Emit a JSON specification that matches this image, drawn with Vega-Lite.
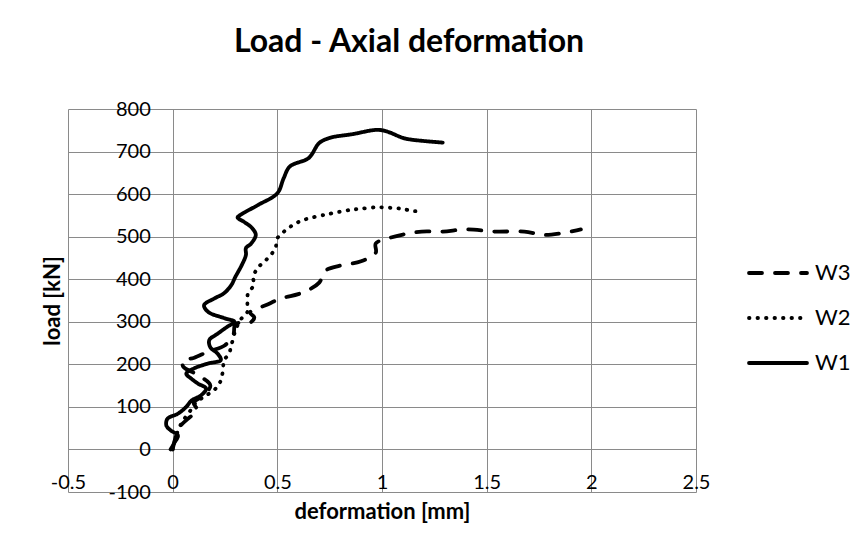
{
  "$schema": "https://vega.github.io/schema/vega-lite/v6.json",
  "autosize": {"type": "none"},
  "padding": {"left": 68, "top": 109, "right": 165, "bottom": 61},
  "width": 628,
  "height": 383,
  "background": "white",
  "title": {"text": "Load - Axial deformation", "font": "Lato", "fontSize": 32, "fontWeight": "bold", "color": "black", "anchor": "middle", "dx": 27, "offset": 40},
  "config": {"view": {"stroke": null}, "font": "Lato"},
  "datasets": {
    "curves": [
      {"s":"W3","o":0,"x":0,"y":0},{"s":"W3","o":1,"x":0.03,"y":50},{"s":"W3","o":2,"x":0.08,"y":75},{"s":"W3","o":3,"x":0.12,"y":90},{"s":"W3","o":4,"x":0.1,"y":110},{"s":"W3","o":5,"x":0.14,"y":125},{"s":"W3","o":6,"x":0.18,"y":150},{"s":"W3","o":7,"x":0.12,"y":175},{"s":"W3","o":8,"x":0.05,"y":195},{"s":"W3","o":9,"x":0.05,"y":210},{"s":"W3","o":10,"x":0.1,"y":215},{"s":"W3","o":11,"x":0.17,"y":230},{"s":"W3","o":12,"x":0.25,"y":245},{"s":"W3","o":13,"x":0.29,"y":270},{"s":"W3","o":14,"x":0.3,"y":295},{"s":"W3","o":15,"x":0.37,"y":298},{"s":"W3","o":16,"x":0.39,"y":310},{"s":"W3","o":17,"x":0.37,"y":322},{"s":"W3","o":18,"x":0.45,"y":340},{"s":"W3","o":19,"x":0.52,"y":355},{"s":"W3","o":20,"x":0.6,"y":365},{"s":"W3","o":21,"x":0.65,"y":375},{"s":"W3","o":22,"x":0.7,"y":392},{"s":"W3","o":23,"x":0.73,"y":420},{"s":"W3","o":24,"x":0.8,"y":432},{"s":"W3","o":25,"x":0.9,"y":442},{"s":"W3","o":26,"x":0.97,"y":462},{"s":"W3","o":27,"x":0.97,"y":484},{"s":"W3","o":28,"x":1.03,"y":496},{"s":"W3","o":29,"x":1.1,"y":505},{"s":"W3","o":30,"x":1.19,"y":512},{"s":"W3","o":31,"x":1.29,"y":512},{"s":"W3","o":32,"x":1.4,"y":517},{"s":"W3","o":33,"x":1.54,"y":512},{"s":"W3","o":34,"x":1.68,"y":512},{"s":"W3","o":35,"x":1.78,"y":504},{"s":"W3","o":36,"x":1.95,"y":517},
      {"s":"W2","o":0,"x":0,"y":0},{"s":"W2","o":1,"x":0.01,"y":20},{"s":"W2","o":2,"x":0.03,"y":50},{"s":"W2","o":3,"x":0.06,"y":75},{"s":"W2","o":4,"x":0.09,"y":95},{"s":"W2","o":5,"x":0.11,"y":110},{"s":"W2","o":6,"x":0.135,"y":119},{"s":"W2","o":7,"x":0.167,"y":129},{"s":"W2","o":8,"x":0.207,"y":144},{"s":"W2","o":9,"x":0.23,"y":162},{"s":"W2","o":10,"x":0.24,"y":186},{"s":"W2","o":11,"x":0.246,"y":210},{"s":"W2","o":12,"x":0.27,"y":225},{"s":"W2","o":13,"x":0.278,"y":241},{"s":"W2","o":14,"x":0.286,"y":255},{"s":"W2","o":15,"x":0.3,"y":280},{"s":"W2","o":16,"x":0.326,"y":306},{"s":"W2","o":17,"x":0.357,"y":323},{"s":"W2","o":18,"x":0.357,"y":343},{"s":"W2","o":19,"x":0.36,"y":367},{"s":"W2","o":20,"x":0.386,"y":385},{"s":"W2","o":21,"x":0.386,"y":406},{"s":"W2","o":22,"x":0.405,"y":426},{"s":"W2","o":23,"x":0.437,"y":441},{"s":"W2","o":24,"x":0.469,"y":457},{"s":"W2","o":25,"x":0.492,"y":475},{"s":"W2","o":26,"x":0.5,"y":496},{"s":"W2","o":27,"x":0.532,"y":512},{"s":"W2","o":28,"x":0.564,"y":524},{"s":"W2","o":29,"x":0.603,"y":535},{"s":"W2","o":30,"x":0.643,"y":542},{"s":"W2","o":31,"x":0.722,"y":551},{"s":"W2","o":32,"x":0.762,"y":555},{"s":"W2","o":33,"x":0.849,"y":563},{"s":"W2","o":34,"x":0.889,"y":565},{"s":"W2","o":35,"x":0.976,"y":569},{"s":"W2","o":36,"x":1.064,"y":567},{"s":"W2","o":37,"x":1.1,"y":565},{"s":"W2","o":38,"x":1.15,"y":560},{"s":"W2","o":39,"x":1.19,"y":561},
      {"s":"W1","o":0,"x":-0.01,"y":0},{"s":"W1","o":1,"x":0.01,"y":17},{"s":"W1","o":2,"x":0.025,"y":33},{"s":"W1","o":3,"x":-0.01,"y":45},{"s":"W1","o":4,"x":-0.03,"y":56},{"s":"W1","o":5,"x":-0.025,"y":72},{"s":"W1","o":6,"x":0.025,"y":84},{"s":"W1","o":7,"x":0.065,"y":100},{"s":"W1","o":8,"x":0.09,"y":115},{"s":"W1","o":9,"x":0.135,"y":127},{"s":"W1","o":10,"x":0.16,"y":143},{"s":"W1","o":11,"x":0.12,"y":155},{"s":"W1","o":12,"x":0.09,"y":166},{"s":"W1","o":13,"x":0.065,"y":178},{"s":"W1","o":14,"x":0.1,"y":190},{"s":"W1","o":15,"x":0.17,"y":202},{"s":"W1","o":16,"x":0.23,"y":210},{"s":"W1","o":17,"x":0.215,"y":225},{"s":"W1","o":18,"x":0.18,"y":240},{"s":"W1","o":19,"x":0.175,"y":257},{"s":"W1","o":20,"x":0.215,"y":272},{"s":"W1","o":21,"x":0.26,"y":288},{"s":"W1","o":22,"x":0.295,"y":300},{"s":"W1","o":23,"x":0.25,"y":308},{"s":"W1","o":24,"x":0.17,"y":323},{"s":"W1","o":25,"x":0.15,"y":339},{"s":"W1","o":26,"x":0.2,"y":355},{"s":"W1","o":27,"x":0.245,"y":367},{"s":"W1","o":28,"x":0.28,"y":386},{"s":"W1","o":29,"x":0.3,"y":406},{"s":"W1","o":30,"x":0.33,"y":433},{"s":"W1","o":31,"x":0.35,"y":457},{"s":"W1","o":32,"x":0.35,"y":473},{"s":"W1","o":33,"x":0.375,"y":484},{"s":"W1","o":34,"x":0.397,"y":504},{"s":"W1","o":35,"x":0.38,"y":520},{"s":"W1","o":36,"x":0.34,"y":535},{"s":"W1","o":37,"x":0.31,"y":545},{"s":"W1","o":38,"x":0.33,"y":553},{"s":"W1","o":39,"x":0.41,"y":575},{"s":"W1","o":40,"x":0.5,"y":602},{"s":"W1","o":41,"x":0.53,"y":637},{"s":"W1","o":42,"x":0.56,"y":665},{"s":"W1","o":43,"x":0.65,"y":685},{"s":"W1","o":44,"x":0.7,"y":720},{"s":"W1","o":45,"x":0.75,"y":732},{"s":"W1","o":46,"x":0.86,"y":741},{"s":"W1","o":47,"x":0.98,"y":751},{"s":"W1","o":48,"x":1.03,"y":746},{"s":"W1","o":49,"x":1.1,"y":732},{"s":"W1","o":50,"x":1.14,"y":728},{"s":"W1","o":51,"x":1.29,"y":721}
    ]
  },
  "data": {"name": "curves"},
  "mark": {"type": "line", "color": "black", "strokeWidth": 3.8, "strokeCap": "round", "strokeJoin": "round", "interpolate": "catmull-rom"},
  "encoding": {
    "x": {
      "field": "x", "type": "quantitative",
      "scale": {"domain": [-0.5, 2.5], "nice": false, "zero": false},
      "axis": {
        "title": "deformation [mm]", "titleFont": "Lato", "titleFontSize": 22, "titleFontWeight": "bold", "titleColor": "black",
        "values": [-0.5, 0, 0.5, 1, 1.5, 2, 2.5],
        "labelExpr": "datum.value < 0 ? '-' + format(-datum.value, '~g') : format(datum.value, '~g')",
        "labelFont": "Lato", "labelFontSize": 20, "labelColor": "black", "labelFlush": false, "labelOverlap": false,
        "offset": -42.7, "labelPadding": 23, "ticks": false, "tickSize": 0, "domain": false,
        "grid": true, "gridColor": "#8a8a8a", "gridWidth": 1, "gridOpacity": 1,
        "titleY": 62, "titleBaseline": "middle"
      }
    },
    "y": {
      "field": "y", "type": "quantitative",
      "scale": {"domain": [-100, 800], "nice": false, "zero": false},
      "axis": {
        "title": "load [kN]", "titleFont": "Lato", "titleFontSize": 22, "titleFontWeight": "bold", "titleColor": "black",
        "values": [-100, 0, 100, 200, 300, 400, 500, 600, 700, 800],
        "labelExpr": "datum.value < 0 ? '-' + format(-datum.value, '~g') : format(datum.value, '~g')",
        "labelFont": "Lato", "labelFontSize": 20, "labelColor": "black", "labelFlush": false, "labelOverlap": false,
        "offset": -105.3, "labelPadding": 23, "ticks": false, "tickSize": 0, "domain": false,
        "grid": true, "gridColor": "#8a8a8a", "gridWidth": 1, "gridOpacity": 1,
        "titleX": -109, "titleY": 191.5
      }
    },
    "strokeDash": {
      "field": "s", "type": "nominal",
      "scale": {"domain": ["W3", "W2", "W1"], "range": [[13, 13], [0.5, 8], [1, 0]]},
      "legend": {
        "title": null, "orient": "none", "legendX": 679, "legendY": 133,
        "symbolType": "stroke", "symbolSize": 3364, "symbolStrokeWidth": 3.8, "symbolStrokeColor": "black",
        "labelFont": "Lato", "labelFontSize": 22, "labelColor": "black", "labelOffset": 6, "rowPadding": 3,
        "encode": {"symbols": {"update": {"strokeCap": {"value": "round"}}}}
      }
    },
    "order": {"field": "o", "type": "quantitative"}
  }
}
